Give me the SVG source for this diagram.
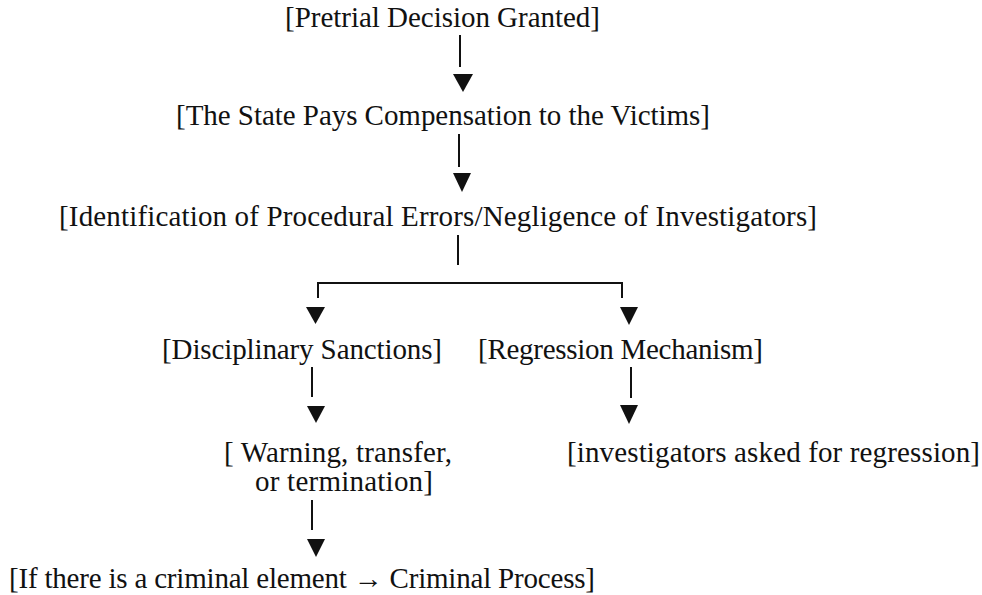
<svg xmlns="http://www.w3.org/2000/svg" width="982" height="595" viewBox="0 0 982 595">
<style>
.t{font-family:'Liberation Serif','Times New Roman',serif;font-size:29px;fill:#111;}
.ln{stroke:#111;stroke-width:2;fill:none;}
.ah{fill:#111;stroke:none;}
</style>
<rect width="982" height="595" fill="#fff"/>
<g id="connectors">
<line class="ln" x1="460" y1="35" x2="460" y2="67"/>
<polygon class="ah" points="453,74 473,74 463,92"/>
<line class="ln" x1="459" y1="134" x2="459" y2="167"/>
<polygon class="ah" points="453,173 471,173 462,192"/>
<line class="ln" x1="458" y1="235" x2="458" y2="265"/>
<path class="ln" d="M318,298 V283 H622 V298"/>
<polygon class="ah" points="306,307 325,307 315.5,324"/>
<polygon class="ah" points="620,307 638,307 629,325"/>
<line class="ln" x1="312" y1="367" x2="312" y2="397"/>
<polygon class="ah" points="307,406 325,406 316,423"/>
<line class="ln" x1="631" y1="367" x2="631" y2="398"/>
<polygon class="ah" points="620,405 638,405 629,424"/>
<line class="ln" x1="312" y1="500" x2="312" y2="530"/>
<polygon class="ah" points="307,539 325,539 316,557"/>
</g>
<g id="n1"><text class="t" x="285" y="27" textLength="315" lengthAdjust="spacing">[Pretrial Decision Granted]</text></g>
<g id="n2"><text class="t" x="176" y="125" textLength="534" lengthAdjust="spacing">[The State Pays Compensation to the Victims]</text></g>
<g id="n3"><text class="t" x="59" y="226" textLength="758" lengthAdjust="spacing">[Identification of Procedural Errors/Negligence of Investigators]</text></g>
<g id="n4"><text class="t" x="162" y="359" textLength="280" lengthAdjust="spacing">[Disciplinary Sanctions]</text></g>
<g id="n5"><text class="t" x="478" y="359" textLength="285" lengthAdjust="spacing">[Regression Mechanism]</text></g>
<g id="n6"><text class="t" x="224" y="462" textLength="228" lengthAdjust="spacing">[ Warning, transfer,</text><text class="t" x="255" y="491" textLength="178" lengthAdjust="spacing">or termination]</text></g>
<g id="n7"><text class="t" x="567" y="462" textLength="413" lengthAdjust="spacing">[investigators asked for regression]</text></g>
<g id="n8"><text class="t" x="9" y="588" textLength="586" lengthAdjust="spacing">[If there is a criminal element → Criminal Process]</text></g>
</svg>
